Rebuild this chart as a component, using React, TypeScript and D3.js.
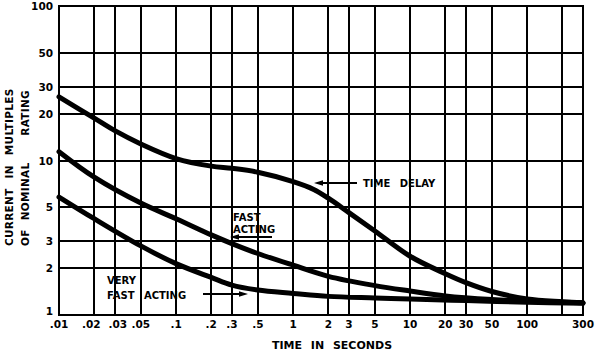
import React from 'react';
import * as d3 from 'd3';

const xGrid = [0.01, 0.02, 0.03, 0.05, 0.1, 0.2, 0.3, 0.5, 1, 2, 3, 5, 10, 20, 30, 50, 100, 200, 300];
const xLabels = ['.01', '.02', '.03', '.05', '.1', '.2', '.3', '.5', '1', '2', '3', '5', '10', '20', '30', '50', '100', '', '300'];
const yGrid = [1, 2, 3, 5, 10, 20, 30, 50, 100];
const yLabels = ['1', '2', '3', '5', '10', '20', '30', '50', '100'];

// [seconds, multiples of rating]
const timeDelay = [
  [0.01, 25.8], [0.02, 18.8], [0.03, 15.6], [0.05, 12.8], [0.1, 10.3], [0.2, 9.2], [0.3, 8.9],
  [0.5, 8.4], [1, 7.3], [1.5, 6.5], [2, 5.7], [3, 4.6], [5, 3.5], [10, 2.4], [20, 1.85],
  [30, 1.62], [50, 1.42], [100, 1.27], [200, 1.22], [300, 1.2],
];
const fastActing = [
  [0.01, 11.4], [0.02, 7.8], [0.05, 5.3], [0.1, 4.2], [0.2, 3.3], [0.3, 2.9], [0.5, 2.5],
  [1, 2.1], [2, 1.78], [5, 1.55], [10, 1.43], [20, 1.33], [50, 1.26], [100, 1.23], [300, 1.2],
];
const veryFastActing = [
  [0.01, 5.8], [0.02, 4.2], [0.05, 2.8], [0.1, 2.15], [0.2, 1.75], [0.3, 1.56], [0.5, 1.45],
  [1, 1.38], [2, 1.32], [5, 1.29], [10, 1.27], [30, 1.24], [100, 1.21], [300, 1.19],
];

const W = 600;
const H = 351;
const left = 59, right = 583, top = 6, bottom = 315;
const font = '"DejaVu Sans", sans-serif';

export default function App() {
  const x = d3.scaleLog().domain([0.01, 300]).range([left, right]);
  const y = d3.scaleLog().domain([1, 100]).range([bottom, top]);

  const line = d3
    .line<number[]>()
    .x(d => x(d[0]))
    .y(d => y(d[1]))
    .curve(d3.curveCatmullRom.alpha(0.5));

  const arrow = (x1: number, x2: number, yy: number) => {
    // arrowhead at x2
    const dir = x2 > x1 ? 1 : -1;
    return (
      <g>
        <line x1={x1} x2={x2 - dir * 4} y1={yy} y2={yy} stroke="#000" strokeWidth={1.8} />
        <path d={`M${x2},${yy} L${x2 - dir * 9},${yy - 2.8} L${x2 - dir * 9},${yy + 2.8} Z`} fill="#000" />
      </g>
    );
  };

  return (
    <>
      <style>{'body{margin:0}'}</style>
      <svg width={W} height={H} style={{ display: 'block', background: '#fff' }}>
        <g stroke="#000" strokeWidth={2}>
          {xGrid.map(v => (
            <line key={'x' + v} x1={Math.round(x(v))} x2={Math.round(x(v))} y1={top - 1} y2={bottom + 1} />
          ))}
          {yGrid.map(v => (
            <line key={'y' + v} x1={left - 1} x2={right + 1} y1={Math.round(y(v))} y2={Math.round(y(v))} />
          ))}
        </g>

        {[timeDelay, fastActing, veryFastActing].map((s, i) => (
          <path key={i} d={line(s) || ''} fill="none" stroke="#000" strokeWidth={5} strokeLinecap="round" />
        ))}

        <g fontFamily={font} fontWeight="bold" fontSize={10.5} fill="#000">
          {yGrid.map((v, i) => (
            <text key={'yl' + v} x={53} y={y(v) + (v === 1 ? 0 : 4)} textAnchor="end">
              {yLabels[i]}
            </text>
          ))}
          {xGrid.map((v, i) => {
            let dx = 0;
            if (v === 0.02) dx = -3;
            if (v === 0.03) dx = 3;
            return (
              <text key={'xl' + v} x={x(v) + dx} y={328} textAnchor="middle">
                {xLabels[i]}
              </text>
            );
          })}
          <text x={332} y={349} textAnchor="middle" fontSize={11} wordSpacing={5}>
            TIME IN SECONDS
          </text>
          <text transform="translate(13,246) rotate(-90)" fontSize={10.5} wordSpacing={6} letterSpacing={0.3}>
            CURRENT IN MULTIPLES
          </text>
          <text transform="translate(29,246) rotate(-90)" fontSize={10.5} wordSpacing={5} letterSpacing={0.3}>
            OF NOMINAL{'\u00a0\u00a0\u00a0'}RATING
          </text>

          <text x={363} y={187} fontSize={10} wordSpacing={6}>TIME DELAY</text>
          <text x={233} y={221} fontSize={10}>FAST</text>
          <text x={233} y={233} fontSize={10}>ACTING</text>
          <text x={107} y={284} fontSize={10}>VERY</text>
          <text x={107} y={299} fontSize={10} wordSpacing={6}>FAST ACTING</text>
        </g>

        {arrow(357, 314, 183)}
        {arrow(272, 230, 237)}
        {arrow(203, 248, 294)}
      </svg>
    </>
  );
}
